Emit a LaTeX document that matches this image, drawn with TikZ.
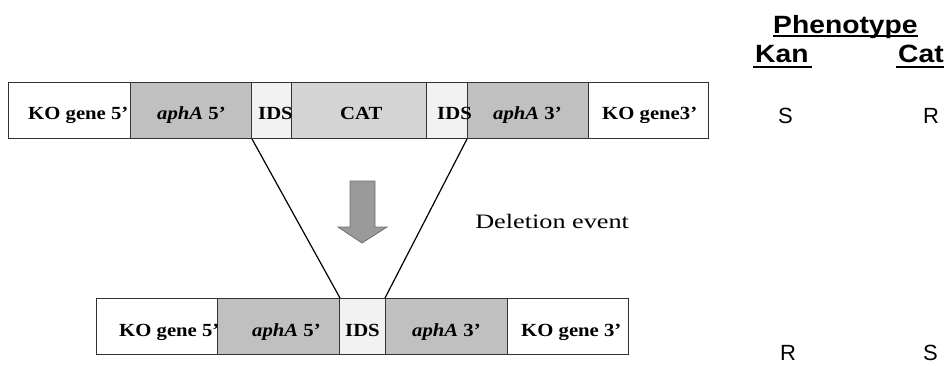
\documentclass[tikz,border=0pt]{standalone}
\usepackage{fontspec}
\setmainfont{Liberation Serif}
\newfontfamily\arialfont{Liberation Sans}
\definecolor{aphgray}{HTML}{C0C0C0}
\definecolor{catgray}{HTML}{D4D4D4}
\definecolor{idsgray}{HTML}{F2F2F2}
\definecolor{arrowfill}{HTML}{9A9A9A}
\definecolor{arrowedge}{HTML}{6E6E6E}
\begin{document}
\begin{tikzpicture}[x=1pt,y=-1pt,
  cell/.style={draw=black!80, line width=1pt, rectangle, inner sep=0pt,
    anchor=north west, minimum height=56pt},
  ko/.style={cell, fill=white},
  aph/.style={cell, fill=aphgray},
  cat/.style={cell, fill=catgray},
  ids/.style={cell, fill=idsgray},
  lbl/.style={anchor=base west, inner sep=0pt, xscale=1.12,
    font=\fontsize{18.5}{20}\selectfont\bfseries},
  head/.style={anchor=base west, inner sep=0pt, xscale=1.13,
    font=\arialfont\fontsize{25}{27}\selectfont\bfseries},
  pheno/.style={anchor=base west, inner sep=0pt,
    font=\arialfont\fontsize{22}{24}\selectfont},
  uline/.style={line width=2pt},
  link/.style={line width=1.2pt, black}
]
\useasboundingbox (0,0) rectangle (947,365);

% construct before the deletion
\node[ko,  minimum width=122pt] (tk5) at (8,82) {};
\node[aph, minimum width=121pt] (ta5) at (130,82) {};
\node[ids, minimum width=40pt]  (ti1) at (251,82) {};
\node[cat, minimum width=135pt] (tcat) at (291,82) {};
\node[ids, minimum width=41pt]  (ti2) at (426,82) {};
\node[aph, minimum width=121pt] (ta3) at (467,82) {};
\node[ko,  minimum width=120pt] (tk3) at (588,82) {};

\node[lbl] (ltk5) at (28,119) {KO gene 5’};
\node[lbl] (lta5) at (157,119) {\itshape aphA\/\upshape{} 5’};
\node[lbl] (lti1) at (258,119) {IDS};
\node[lbl] (ltcat) at (340,119) {CAT};
\node[lbl] (lti2) at (437,119) {IDS};
\node[lbl] (lta3) at (493,119) {\itshape aphA\/\upshape{} 3’};
\node[lbl] (ltk3) at (602,119) {KO gene3’};

% construct after the deletion
\node[ko,  minimum width=121pt] (bk5) at (96,298) {};
\node[aph, minimum width=122pt] (ba5) at (217,298) {};
\node[ids, minimum width=46pt]  (bi)  at (339,298) {};
\node[aph, minimum width=122pt] (ba3) at (385,298) {};
\node[ko,  minimum width=121pt] (bk3) at (507,298) {};

\node[lbl] (lbk5) at (119,336) {KO gene 5’};
\node[lbl] (lba5) at (252,336) {\itshape aphA\/\upshape{} 5’};
\node[lbl] (lbi)  at (345,336) {IDS};
\node[lbl] (lba3) at (412,336) {\itshape aphA\/\upshape{} 3’};
\node[lbl] (lbk3) at (521,336) {KO gene 3’};

% recombination lines
\draw[link] (ta5.south east) -- (ba5.north east);
\draw[link] (ta3.south west) -- (ba3.north west);

% block arrow
\draw[fill=arrowfill, draw=arrowedge, line width=0.8pt]
  (350,181) -- (375,181) -- (375,227) -- (387,227) -- (362,243)
  -- (338,227) -- (350,227) -- cycle;

\node[anchor=base west, inner sep=0pt, xscale=1.28,
  font=\fontsize{20.5}{22}\selectfont] (del) at (475,228) {Deletion event};

% phenotype table
\node[head] (ph) at (773,33) {Phenotype};
\node[head] (kan) at (755,62) {Kan};
\node[head] (cat) at (898,62) {Cat};
\draw[uline] ([yshift=-3pt]ph.base west) -- ([yshift=-3pt]ph.base east);
\draw[uline] ([yshift=-5pt,xshift=-2pt]kan.base west) -- ([yshift=-5pt,xshift=3pt]kan.base east);
\draw[uline] ([yshift=-5pt,xshift=-2pt]cat.base west) -- ([yshift=-5pt]cat.base east);

\node[pheno] (k1) at (778,123) {S};
\node[pheno] (c1) at (923,123) {R};
\node[pheno] (k2) at (780,360) {R};
\node[pheno] (c2) at (923,360) {S};
\end{tikzpicture}
\end{document}
